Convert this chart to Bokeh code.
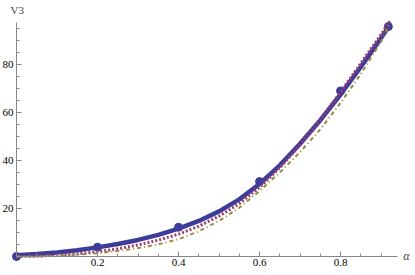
from bokeh.plotting import figure
from bokeh.models import FixedTicker, Range1d, Label
from bokeh.embed import file_html
from bokeh.resources import INLINE

# ---- data ----
alpha_grid = [0.0, 0.05, 0.1, 0.15, 0.2, 0.25, 0.3, 0.35, 0.4, 0.45, 0.5,
              0.55, 0.6, 0.65, 0.7, 0.75, 0.8, 0.85, 0.9, 0.922]
v3_fit = [0.5, 1.0, 1.7, 2.6, 3.8, 5.2, 6.9, 9.0, 11.6, 14.8, 18.8,
          23.8, 30.2, 38.0, 47.0, 56.8, 67.5, 79.0, 91.0, 96.5]
v3_dotted = [0.0, 0.15, 0.5, 1.1, 2.0, 3.2, 4.8, 6.8, 9.3, 12.6, 16.8,
             22.0, 28.8, 37.0, 46.5, 57.0, 68.5, 80.5, 92.5, 98.0]
v3_dashdot = [0.0, 0.05, 0.3, 0.8, 1.4, 2.3, 3.5, 5.1, 7.2, 10.5, 14.8,
              20.3, 27.3, 35.0, 43.5, 53.0, 64.0, 76.0, 89.5, 97.0]
alpha_pts = [0.0, 0.2, 0.4, 0.6, 0.8, 0.918]
v3_pts = [0.0, 3.9, 12.2, 31.2, 69.0, 95.8]

x_major = [0.2, 0.4, 0.6, 0.8]
x_minor = [0.05, 0.1, 0.15, 0.25, 0.3, 0.35, 0.45, 0.5, 0.55, 0.65, 0.7, 0.75, 0.85, 0.9]
y_major = [20, 40, 60, 80]
y_minor = [5, 10, 15, 25, 30, 35, 45, 50, 55, 65, 70, 75, 85, 90, 95]

c_blue = "#3D3D99"
c_purple = "#993D71"
c_gold = "#998B3D"
axis_col = "#888888"
serif = "Liberation Serif"

p = figure(width=415, height=275, output_backend="svg", toolbar_location=None,
           x_range=Range1d(-0.0395, 0.985), y_range=Range1d(-7.92, 106.67),
           min_border_left=0, min_border_right=0, min_border_top=0, min_border_bottom=0)
p.outline_line_color = None
p.grid.visible = False

p.line(alpha_grid, v3_fit, line_color=c_blue, line_width=4.5)
p.scatter(alpha_pts, v3_pts, size=8, color=c_blue)
p.line(alpha_grid, v3_dotted, line_color=c_purple, line_width=3, line_dash="2 2")
p.line(alpha_grid, v3_dashdot, line_color=c_gold, line_width=2, line_dash="4 3 1 3")

for ax, major, minor, bounds in ((p.xaxis[0], x_major, x_minor, (0, 0.94)),
                                 (p.yaxis[0], y_major, y_minor, (0, 97.5))):
    ax.fixed_location = 0
    ax.bounds = bounds
    ax.ticker = FixedTicker(ticks=major, minor_ticks=minor)
    ax.axis_line_color = axis_col
    ax.major_tick_line_color = axis_col
    ax.minor_tick_line_color = axis_col
    ax.major_tick_in = 5
    ax.major_tick_out = 0
    ax.minor_tick_in = 3
    ax.minor_tick_out = 0
    ax.major_label_text_font = serif
    ax.major_label_text_font_size = "11px"
    ax.major_label_text_color = "#000000"
    ax.major_label_standoff = 3

p.add_layout(Label(x=-0.0148, y=105.4, text="V3", text_font=serif, text_font_size="11px",
                   text_baseline="top", text_align="left"))
p.add_layout(Label(x=0.955, y=0, text="α", text_font=serif, text_font_size="12px",
                   text_font_style="italic", text_baseline="middle", text_align="left"))

open("out.html", "w").write(file_html(p, INLINE))
